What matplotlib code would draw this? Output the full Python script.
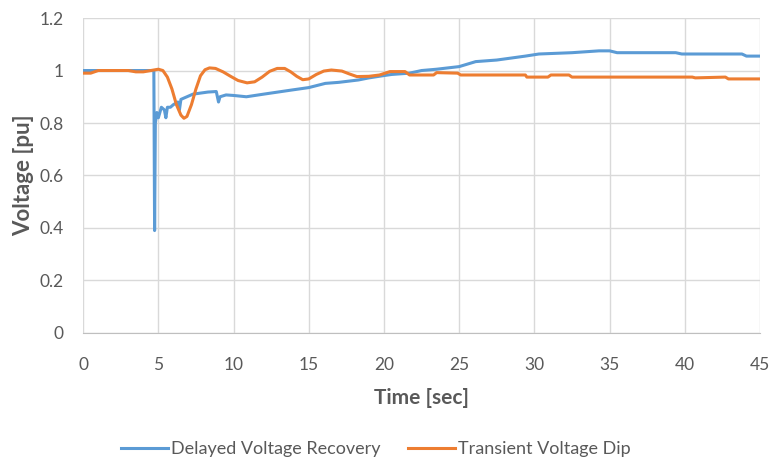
import matplotlib
matplotlib.use("Agg")
import matplotlib.pyplot as plt

# ===============================
# Data
# ===============================
t_delayed = [0, 1, 2, 3, 4, 4.7, 4.75, 4.8, 4.9, 5.0, 5.2, 5.4, 5.5, 5.6, 5.8, 6.0,
             6.3, 6.4, 6.5, 6.9, 7.3, 7.8, 8.3, 8.85, 9.0, 9.1, 9.5, 10.0, 10.85,
             12.0, 13.9, 15.0, 16.1, 17.0, 18.3, 19.0, 19.9, 20.5, 21.7, 22.5,
             23.5, 25.0, 26.1, 27.5, 29.4, 30.3, 32.5, 34.3, 35.0, 35.5, 37.0,
             39.4, 39.8, 42.0, 43.8, 44.1, 45.0]
v_delayed = [1.0, 1.0, 1.0, 1.0, 1.0, 1.0, 0.39, 0.80, 0.84, 0.82, 0.86, 0.85, 0.82,
             0.86, 0.86, 0.87, 0.88, 0.85, 0.89, 0.90, 0.91, 0.914, 0.918, 0.92,
             0.88, 0.90, 0.907, 0.905, 0.90, 0.91, 0.926, 0.935, 0.951, 0.955,
             0.964, 0.972, 0.98, 0.985, 0.99, 1.0, 1.005, 1.015, 1.034, 1.04,
             1.055, 1.063, 1.068, 1.075, 1.075, 1.068, 1.068, 1.068, 1.063,
             1.063, 1.063, 1.055, 1.055]

t_dip = [0, 0.5, 1, 2, 3, 3.5, 4.0, 4.5, 5.0, 5.3, 5.6, 5.9, 6.2, 6.5, 6.7, 6.9,
         7.2, 7.5, 7.8, 8.1, 8.4, 8.8, 9.3, 9.8, 10.3, 10.9, 11.4, 11.9, 12.4,
         12.9, 13.4, 13.8, 14.2, 14.6, 15.0, 15.5, 16.0, 16.5, 17.2, 17.7, 18.2,
         19.0, 19.7, 20.4, 21.4, 21.7, 23.3, 23.5, 24.9, 25.1, 29.4, 29.5, 30.9,
         31.1, 32.3, 32.5, 40.5, 40.7, 42.7, 42.9, 45.0]
v_dip = [0.99, 0.99, 1.0, 1.0, 1.0, 0.995, 0.995, 1.0, 1.005, 1.0, 0.975, 0.93,
         0.87, 0.83, 0.818, 0.825, 0.87, 0.93, 0.98, 1.003, 1.01, 1.008, 0.995,
         0.978, 0.962, 0.953, 0.957, 0.975, 0.997, 1.008, 1.008, 0.995, 0.978,
         0.965, 0.968, 0.985, 0.998, 1.002, 0.998, 0.987, 0.977, 0.978, 0.983,
         0.996, 0.996, 0.983, 0.983, 0.992, 0.99, 0.983, 0.983, 0.975, 0.975,
         0.983, 0.983, 0.975, 0.975, 0.972, 0.975, 0.968, 0.968]

x_ticks = [0, 5, 10, 15, 20, 25, 30, 35, 40, 45]
y_ticks = [0, 0.2, 0.4, 0.6, 0.8, 1.0, 1.2]
y_tick_labels = ["0", "0.2", "0.4", "0.6", "0.8", "1", "1.2"]

# ===============================
# Style
# ===============================
plt.rcParams['font.family'] = ['Lato', 'DejaVu Sans']
text_gray = "#595959"
grid_gray = "#D9D9D9"

fig = plt.figure(figsize=(7.7, 4.63), dpi=100)
ax = fig.add_axes([0.108, 0.281, 0.879, 0.68])

ax.plot(t_delayed, v_delayed, color="#5B9BD5", lw=2.2, label="Delayed Voltage Recovery")
ax.plot(t_dip, v_dip, color="#ED7D31", lw=2.2, label="Transient Voltage Dip")

ax.set_xlim(0, 45)
ax.set_ylim(0, 1.2)
ax.set_xticks(x_ticks)
ax.set_yticks(y_ticks)
ax.set_yticklabels(y_tick_labels)
ax.grid(True, color=grid_gray, lw=1)
ax.set_axisbelow(True)
ax.tick_params(length=0, labelsize=12.5, colors=text_gray)
ax.tick_params(axis="x", pad=17)
ax.tick_params(axis="y", pad=14)

for side in ["top", "right", "left"]:
    ax.spines[side].set_visible(False)
ax.spines["bottom"].set_color("#BFBFBF")

ax.set_xlabel("Time [sec]", fontsize=15, fontweight="bold", color=text_gray, labelpad=11)
ax.set_ylabel("Voltage [pu]", fontsize=16, fontweight="bold", color=text_gray, labelpad=4)

fig.legend(loc="center", bbox_to_anchor=(0.488, 0.03), ncol=2, frameon=False,
           fontsize=13, labelcolor=text_gray, handlelength=2.6, handletextpad=0.2,
           columnspacing=1.5)

fig.savefig("out.png", dpi=100)
